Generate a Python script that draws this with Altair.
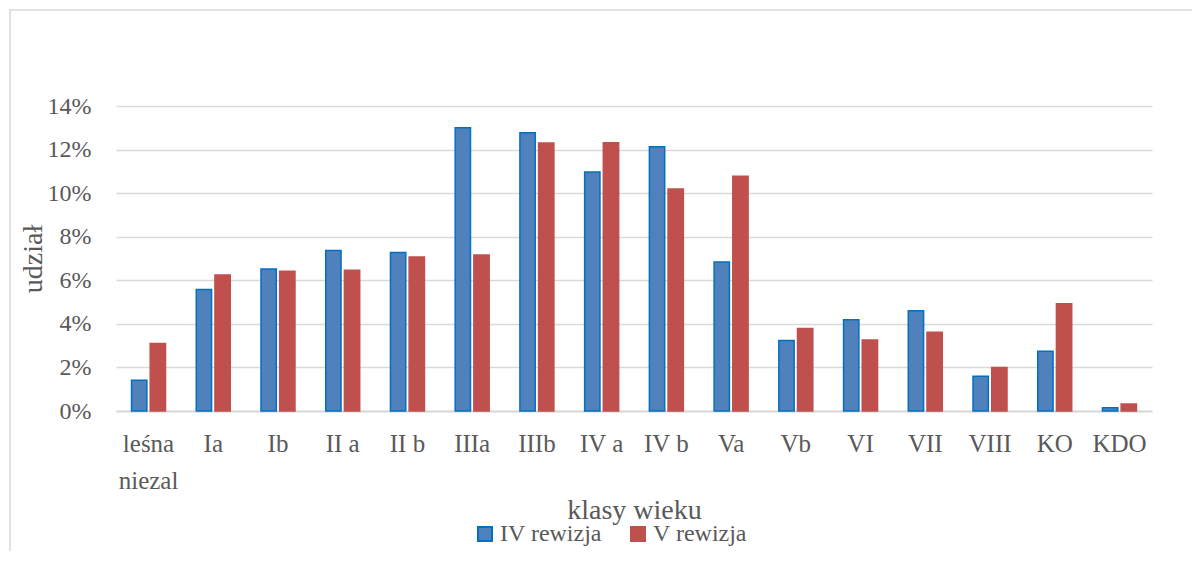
import altair as alt
import pandas as pd

categories = ["leśna niezal", "Ia", "Ib", "II a", "II b", "IIIa", "IIIb", "IV a",
              "IV b", "Va", "Vb", "VI", "VII", "VIII", "KO", "KDO"]
series_names = ["IV rewizja", "V rewizja"]
iv_rewizja = [0.0141, 0.0558, 0.0652, 0.0737, 0.0727, 0.1300, 0.1277, 0.1097,
              0.1213, 0.0684, 0.0324, 0.0419, 0.0460, 0.0159, 0.0274, 0.0015]
v_rewizja = [0.0310, 0.0624, 0.0642, 0.0646, 0.0707, 0.0716, 0.1230, 0.1231,
             0.1019, 0.1078, 0.0379, 0.0326, 0.0361, 0.0200, 0.0492, 0.0032]
y_ticks = [0, 0.02, 0.04, 0.06, 0.08, 0.10, 0.12, 0.14]

rows = []
for c, a, b in zip(categories, iv_rewizja, v_rewizja):
    rows.append({"klasa": c, "seria": series_names[0], "udzial": a})
    rows.append({"klasa": c, "seria": series_names[1], "udzial": b})
df = pd.DataFrame(rows)

FONT = "'Liberation Serif', 'DejaVu Serif', serif"
GRAY = "#595959"

bars = alt.Chart(df).mark_bar(strokeWidth=1.5).encode(
    x=alt.X("klasa:N", sort=categories,
            scale=alt.Scale(paddingInner=0.475, paddingOuter=0.24),
            axis=alt.Axis(title="klasy wieku", labelAngle=0, ticks=False,
                          domainColor="#D9D9D9", domainWidth=2,
                          labelFont=FONT, labelFontSize=25, labelColor=GRAY,
                          labelPadding=20, labelLineHeight=37,
                          labelExpr="datum.label == 'leśna niezal' ? ['leśna', 'niezal'] : datum.label",
                          titleFont=FONT, titleFontSize=28, titleColor=GRAY,
                          titleFontWeight="normal", titleY=107,
                          titleBaseline="alphabetic")),
    xOffset=alt.XOffset("seria:N", sort=series_names,
                        scale=alt.Scale(paddingInner=0.18, paddingOuter=0)),
    y=alt.Y("udzial:Q", scale=alt.Scale(domain=[0, 0.14], nice=False),
            axis=alt.Axis(title="udział", values=y_ticks, format=".0%",
                          domain=False, ticks=False, labelPadding=25,
                          gridColor="#D9D9D9", gridWidth=1.5,
                          labelFont=FONT, labelFontSize=24, labelColor=GRAY,
                          titleFont=FONT, titleFontSize=28, titleColor=GRAY,
                          titleFontWeight="normal", titleX=-83,
                          titleAngle=-90, titleAlign="center",
                          titleBaseline="middle")),
    color=alt.Color("seria:N", sort=series_names,
                    scale=alt.Scale(domain=series_names, range=["#4F81BD", "#C0504D"]),
                    legend=alt.Legend(title=None, orient="none", direction="horizontal",
                                      legendX=357, legendY=416,
                                      symbolType="square", symbolSize=196,
                                      symbolStrokeWidth=2,
                                      labelFont=FONT, labelFontSize=24,
                                      labelColor=GRAY, columnPadding=24,
                                      labelOffset=3)),
    stroke=alt.Stroke("seria:N", sort=series_names,
                      scale=alt.Scale(domain=series_names, range=["#0070C0", "#C0504D"]),
                      legend=None),
)

border = alt.Chart(pd.DataFrame({"k": [0]})).mark_rect(
    fill="transparent", stroke="#D9D9D9", strokeWidth=1.5
).encode(x=alt.value(-106), x2=alt.value(1100), y=alt.value(-96), y2=alt.value(470))

chart = alt.layer(border, bars).properties(
    width=1036, height=305,
    autosize=alt.AutoSizeParams(type="none"),
    padding={"left": 108, "top": 98, "right": 40, "bottom": 140},
).configure_view(stroke=None)

chart.save("out.html", embed_options={"renderer": "svg", "actions": False})
